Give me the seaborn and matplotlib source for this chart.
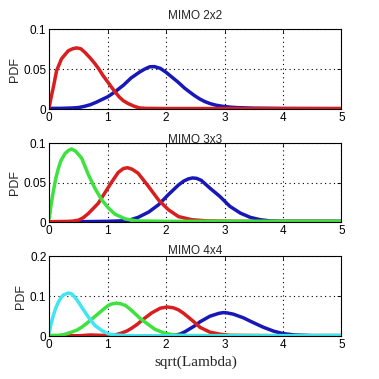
import matplotlib
matplotlib.use("Agg")
import matplotlib.pyplot as plt
import seaborn as sns
import pandas as pd

# ---------------- data ----------------
titles = ["MIMO 2x2", "MIMO 3x3", "MIMO 4x4"]
xticks = [0, 1, 2, 3, 4, 5]
xtick_labels = ["0", "1", "2", "3", "4", "5"]
yticks_list = [[0, 0.05, 0.1], [0, 0.05, 0.1], [0, 0.1, 0.2]]
ytick_labels_list = [["0", "0.05", "0.1"], ["0", "0.05", "0.1"], ["0", "0.1", "0.2"]]
ylims = [0.1, 0.1, 0.2]

# MIMO 2x2
x22_blue = [0, 0.2, 0.4, 0.5, 0.6, 0.7, 0.8, 0.9, 1.0, 1.125, 1.2, 1.27, 1.4, 1.55, 1.63, 1.72,
            1.8, 1.9, 2.0, 2.1, 2.2, 2.32, 2.41, 2.49, 2.58, 2.66, 2.75, 2.85, 2.97, 3.1, 3.2,
            3.5, 4.0, 5.0]
y22_blue = [0.001, 0.001, 0.0015, 0.002, 0.0035, 0.0055, 0.0085, 0.012, 0.0155, 0.0216, 0.026,
            0.030, 0.039, 0.0466, 0.050, 0.053, 0.0532, 0.051, 0.046, 0.040, 0.034, 0.026, 0.021,
            0.0167, 0.0125, 0.0095, 0.007, 0.005, 0.0035, 0.0025, 0.002, 0.0012, 0.0008, 0.0006]
x22_red = [0, 0.03, 0.07, 0.125, 0.21, 0.325, 0.4, 0.47, 0.54, 0.61, 0.7, 0.78, 0.85, 0.92, 1.0,
           1.06, 1.125, 1.2, 1.27, 1.35, 1.44, 1.5, 1.55, 1.65, 2.0, 3.0, 4.0, 5.0]
y22_red = [0.003, 0.014, 0.0275, 0.048, 0.063, 0.073, 0.0755, 0.0766, 0.0755, 0.071, 0.064,
           0.057, 0.050, 0.042, 0.034, 0.028, 0.0216, 0.015, 0.0104, 0.007, 0.004, 0.0025,
           0.0015, 0.001, 0.0008, 0.0008, 0.0008, 0.0008]

# MIMO 3x3
x33_blue = [0, 0.5, 1.0, 1.2, 1.35, 1.52, 1.7, 1.87, 2.04, 2.21, 2.3, 2.38, 2.45, 2.52, 2.6,
            2.75, 2.92, 3.09, 3.27, 3.44, 3.61, 3.78, 4.0, 4.5, 5.0]
y33_blue = [0.0005, 0.0005, 0.001, 0.0015, 0.002, 0.006, 0.0127, 0.022, 0.035, 0.047, 0.052,
            0.0548, 0.056, 0.0555, 0.053, 0.043, 0.0325, 0.020, 0.0114, 0.006, 0.003, 0.0015,
            0.001, 0.001, 0.001]
x33_red = [0, 0.3, 0.4, 0.5, 0.58, 0.67, 0.84, 0.95, 1.07, 1.18, 1.27, 1.34, 1.42, 1.52, 1.70,
           1.87, 2.04, 2.21, 2.44, 2.7, 3.2, 4.0, 5.0]
y33_red = [0.0005, 0.0008, 0.0012, 0.0025, 0.0055, 0.011, 0.024, 0.037, 0.051, 0.063, 0.068,
           0.069, 0.067, 0.062, 0.045, 0.028, 0.0156, 0.007, 0.003, 0.0015, 0.001, 0.0008, 0.0008]
x33_green = [0, 0.03, 0.07, 0.11, 0.155, 0.2, 0.27, 0.33, 0.38, 0.45, 0.555, 0.67, 0.78, 0.90,
             1.01, 1.125, 1.3, 1.5, 2.0, 3.0, 4.0, 5.0]
y33_green = [0.005, 0.022, 0.039, 0.055, 0.068, 0.078, 0.087, 0.091, 0.0928, 0.090, 0.081,
             0.060, 0.043, 0.028, 0.018, 0.010, 0.004, 0.0015, 0.001, 0.001, 0.001, 0.001]

# MIMO 4x4
x44_blue = [0, 1.0, 2.0, 2.15, 2.25, 2.32, 2.4, 2.49, 2.58, 2.75, 2.9, 2.98, 3.05, 3.15, 3.32,
            3.49, 3.66, 3.84, 4.0, 4.2, 4.5, 5.0]
y44_blue = [0.001, 0.001, 0.001, 0.002, 0.006, 0.011, 0.018, 0.026, 0.036, 0.050, 0.057,
            0.059, 0.058, 0.055, 0.046, 0.034, 0.0225, 0.0125, 0.0065, 0.003, 0.0015, 0.0015]
x44_red = [0, 0.5, 0.7, 0.9, 1.05, 1.15, 1.24, 1.33, 1.41, 1.5, 1.58, 1.75, 1.90, 2.02, 2.12,
           2.21, 2.3, 2.38, 2.49, 2.58, 2.75, 2.92, 3.1, 4.0, 5.0]
y44_red = [0.0005, 0.001, 0.003, 0.002, 0.002, 0.004, 0.008, 0.013, 0.020, 0.029, 0.039, 0.058,
           0.070, 0.073, 0.071, 0.066, 0.057, 0.0475, 0.034, 0.022, 0.010, 0.005, 0.002, 0.001,
           0.001]
x44_green = [0, 0.15, 0.25, 0.38, 0.47, 0.555, 0.64, 0.73, 0.82, 0.90, 1.01, 1.08, 1.15, 1.22,
             1.30, 1.38, 1.47, 1.55, 1.64, 1.81, 1.98, 2.15, 2.4, 3.0, 4.0, 5.0]
y44_green = [0.002, 0.002, 0.004, 0.010, 0.015, 0.0225, 0.032, 0.043, 0.054, 0.064, 0.077,
             0.081, 0.0825, 0.081, 0.077, 0.068, 0.056, 0.045, 0.035, 0.017, 0.007, 0.003,
             0.0015, 0.0015, 0.0015, 0.0015]
x44_cyan = [0, 0.03, 0.07, 0.11, 0.155, 0.2, 0.24, 0.325, 0.38, 0.44, 0.5, 0.555, 0.67, 0.78,
            0.90, 1.01, 1.125, 1.3, 1.6, 2.0, 3.0, 4.0, 5.0]
y44_cyan = [0.01, 0.030, 0.052, 0.070, 0.085, 0.096, 0.103, 0.108, 0.106, 0.0975, 0.085,
            0.0725, 0.0475, 0.027, 0.014, 0.006, 0.003, 0.0015, 0.001, 0.001, 0.001, 0.001,
            0.001]

RED, BLUE, GREEN, CYAN = "#d81e1e", "#1818b8", "#3ee23e", "#40e6f0"

panels = [
    [(x22_blue, y22_blue, BLUE), (x22_red, y22_red, RED)],
    [(x33_blue, y33_blue, BLUE), (x33_red, y33_red, RED), (x33_green, y33_green, GREEN)],
    [(x44_blue, y44_blue, BLUE), (x44_red, y44_red, RED), (x44_green, y44_green, GREEN),
     (x44_cyan, y44_cyan, CYAN)],
]

# ---------------- figure ----------------
sns.set_style("white")
plt.rcParams["font.family"] = ["Liberation Sans", "DejaVu Sans"]

fig = plt.figure(figsize=(3.79, 3.79), dpi=100)
left, width = 0.130, 0.771
rects = [(left, 0.712, width, 0.211), (left, 0.414, width, 0.208), (left, 0.113, width, 0.211)]
title_pads = [7.0, 0.5, 1.5]

for i, (rect, series) in enumerate(zip(rects, panels)):
    ax = fig.add_axes(rect)
    for xs, ys, col in series:
        df = pd.DataFrame({"x": xs, "y": ys})
        sns.lineplot(data=df, x="x", y="y", color=col, lw=2.5, ax=ax,
                     estimator=None, sort=False, solid_capstyle="round",
                     solid_joinstyle="round")
    ax.set_xlim(0, 5)
    ax.set_ylim(0, ylims[i])
    ax.set_xticks(xticks)
    ax.set_xticklabels(xtick_labels)
    ax.set_yticks(yticks_list[i])
    ax.set_yticklabels(ytick_labels_list[i])
    ax.grid(True, color="black", linestyle=(0, (1, 3)), linewidth=0.8)
    ax.tick_params(direction="in", length=3, width=0.6, labelsize=8.5, pad=2,
                   top=True, right=True, colors="black")
    for sp in ax.spines.values():
        sp.set_visible(True)
        sp.set_color("black")
        sp.set_linewidth(0.8)
    ax.set_title(titles[i], fontsize=8.5, pad=title_pads[i])
    ax.set_ylabel("PDF", fontsize=9, labelpad=2)
    ax.set_xlabel("")

ax.set_xlabel("sqrt(Lambda)", fontsize=11, family=["Liberation Serif", "DejaVu Serif"], labelpad=3)

fig.savefig("out.png", dpi=100, facecolor="white")
